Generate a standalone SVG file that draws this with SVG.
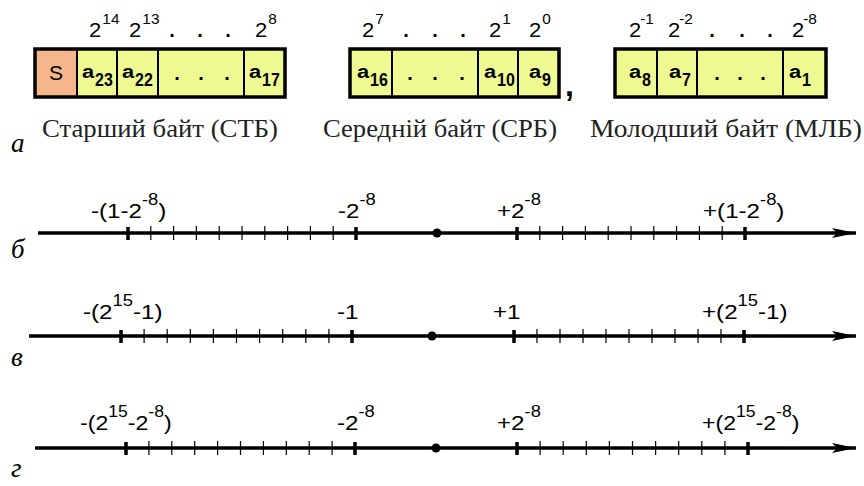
<svg xmlns="http://www.w3.org/2000/svg" width="864" height="486" viewBox="0 0 864 486">
<defs>
<style>
.sans{font-family:"Liberation Sans",Arial,sans-serif;fill:#000}
.b19{font-size:20px}
.s13{font-size:14px}
.cell{font-size:19px;font-weight:bold}
.sub{font-size:16px;font-weight:bold}
.cap{font-family:"Times New Roman","Liberation Serif","DejaVu Serif",serif;font-size:25px;fill:#222}
.it{font-family:"Times New Roman","Liberation Serif","DejaVu Serif",serif;font-style:italic;font-size:27px;fill:#000}
.nl{font-size:21px}
.sp{font-size:16px}
.dot{font-size:20px;font-weight:bold}
.yel{fill:#EEF992}
.org{fill:#F5B68C}
.frame{fill:none;stroke:#000;stroke-width:3.5}
.div{stroke:#000;stroke-width:2}
.axis{stroke:#000;stroke-width:3.5;fill:none}
.major{stroke:#000;stroke-width:3.5}
.minor{stroke:#000;stroke-width:1.2;fill:none}
</style>
<marker id="arr" markerUnits="userSpaceOnUse" markerWidth="28" markerHeight="14" refX="25" refY="7" orient="auto">
<path d="M1,2 L25,7 L1,12 L6,7 Z" fill="#000"/>
</marker>
</defs>

<!-- a: byte boxes -->
<g id="byte-high">
<rect x="35" y="49" width="42" height="48" class="org"/>
<rect x="77" y="49" width="208" height="48" class="yel"/>
<line x1="77" y1="49" x2="77" y2="97" class="div"/>
<line x1="117" y1="49" x2="117" y2="97" class="div"/>
<line x1="158" y1="49" x2="158" y2="97" class="div"/>
<line x1="244" y1="49" x2="244" y2="97" class="div"/>
<rect x="35" y="49" width="250" height="48" class="frame"/>
<text class="sans" style="font-size:21px" x="56" y="80" text-anchor="middle">S</text>
<text class="sans cell" transform="translate(82,78) scale(1.15,1)">a</text>
<text class="sans sub" transform="translate(95,86) scale(1,1.15)">23</text>
<text class="sans cell" transform="translate(122,78) scale(1.15,1)">a</text>
<text class="sans sub" transform="translate(135,86) scale(1,1.15)">22</text>
<text class="sans dot" x="177" y="80" text-anchor="middle">.</text>
<text class="sans dot" x="201" y="80" text-anchor="middle">.</text>
<text class="sans dot" x="227" y="80" text-anchor="middle">.</text>
<text class="sans cell" transform="translate(249,78) scale(1.15,1)">a</text>
<text class="sans sub" transform="translate(262,86) scale(1,1.15)">17</text>
<text class="sans b19" transform="translate(89,37) scale(1.1,1)">2<tspan class="s13" dy="-13" dx="1">14</tspan></text>
<text class="sans b19" transform="translate(129,37) scale(1.1,1)">2<tspan class="s13" dy="-13" dx="1">13</tspan></text>
<text class="sans dot" x="172" y="37" text-anchor="middle">.</text>
<text class="sans dot" x="200" y="37" text-anchor="middle">.</text>
<text class="sans dot" x="228" y="37" text-anchor="middle">.</text>
<text class="sans b19" transform="translate(255,37) scale(1.1,1)">2<tspan class="s13" dy="-13" dx="1">8</tspan></text>
<text class="cap" x="42" y="137" textLength="236" lengthAdjust="spacingAndGlyphs">Старший байт (СТБ)</text>
</g>

<g id="byte-mid">
<rect x="350" y="49" width="209" height="48" class="yel"/>
<line x1="392" y1="49" x2="392" y2="97" class="div"/>
<line x1="478" y1="49" x2="478" y2="97" class="div"/>
<line x1="518" y1="49" x2="518" y2="97" class="div"/>
<rect x="350" y="49" width="209" height="48" class="frame"/>
<text class="sans cell" transform="translate(357,78) scale(1.15,1)">a</text>
<text class="sans sub" transform="translate(370,86) scale(1,1.15)">16</text>
<text class="sans dot" x="410" y="80" text-anchor="middle">.</text>
<text class="sans dot" x="435" y="80" text-anchor="middle">.</text>
<text class="sans dot" x="462" y="80" text-anchor="middle">.</text>
<text class="sans cell" transform="translate(484,78) scale(1.15,1)">a</text>
<text class="sans sub" transform="translate(497,86) scale(1,1.15)">10</text>
<text class="sans cell" transform="translate(529,78) scale(1.15,1)">a</text>
<text class="sans sub" transform="translate(542,86) scale(1,1.15)">9</text>
<text class="sans b19" transform="translate(362,37) scale(1.1,1)">2<tspan class="s13" dy="-13" dx="1">7</tspan></text>
<text class="sans dot" x="406" y="37" text-anchor="middle">.</text>
<text class="sans dot" x="435" y="37" text-anchor="middle">.</text>
<text class="sans dot" x="463" y="37" text-anchor="middle">.</text>
<text class="sans b19" transform="translate(489,37) scale(1.1,1)">2<tspan class="s13" dy="-13" dx="1">1</tspan></text>
<text class="sans b19" transform="translate(529,37) scale(1.1,1)">2<tspan class="s13" dy="-13" dx="1">0</tspan></text>
<text class="sans" style="font-size:32px;font-weight:bold" x="565" y="96">,</text>
<text class="cap" x="323" y="137" textLength="234" lengthAdjust="spacingAndGlyphs">Середній байт (СРБ)</text>
</g>

<g id="byte-low">
<rect x="615" y="49" width="211" height="48" class="yel"/>
<line x1="657" y1="49" x2="657" y2="97" class="div"/>
<line x1="697" y1="49" x2="697" y2="97" class="div"/>
<line x1="783" y1="49" x2="783" y2="97" class="div"/>
<rect x="615" y="49" width="211" height="48" class="frame"/>
<text class="sans cell" transform="translate(629,78) scale(1.15,1)">a</text>
<text class="sans sub" transform="translate(642,86) scale(1,1.15)">8</text>
<text class="sans cell" transform="translate(669,78) scale(1.15,1)">a</text>
<text class="sans sub" transform="translate(682,86) scale(1,1.15)">7</text>
<text class="sans dot" x="717" y="80" text-anchor="middle">.</text>
<text class="sans dot" x="740" y="80" text-anchor="middle">.</text>
<text class="sans dot" x="763" y="80" text-anchor="middle">.</text>
<text class="sans cell" transform="translate(789,78) scale(1.15,1)">a</text>
<text class="sans sub" transform="translate(802,86) scale(1,1.15)">1</text>
<text class="sans b19" transform="translate(629,37) scale(1.1,1)">2<tspan class="s13" dy="-13" dx="-1">-1</tspan></text>
<text class="sans b19" transform="translate(668,37) scale(1.1,1)">2<tspan class="s13" dy="-13" dx="-1">-2</tspan></text>
<text class="sans dot" x="712" y="37" text-anchor="middle">.</text>
<text class="sans dot" x="742" y="37" text-anchor="middle">.</text>
<text class="sans dot" x="770" y="37" text-anchor="middle">.</text>
<text class="sans b19" transform="translate(792,37) scale(1.1,1)">2<tspan class="s13" dy="-13" dx="-1">-8</tspan></text>
<text class="cap" x="590" y="137" textLength="272" lengthAdjust="spacingAndGlyphs">Молодший байт (МЛБ)</text>
</g>

<g id="panel-labels">
<text class="it" x="11" y="152">а</text>
<text class="it" x="11" y="258">б</text>
<text class="it" x="11" y="366">в</text>
<text class="it" x="11" y="477">г</text>
</g>

<!-- connectors: number axes -->
<g id="connectors">
<line x1="38" y1="233" x2="856" y2="233" class="axis" marker-end="url(#arr)"/>
<line x1="29" y1="336" x2="856" y2="336" class="axis" marker-end="url(#arr)"/>
<line x1="35" y1="448" x2="856" y2="448" class="axis" marker-end="url(#arr)"/>
</g>

<g id="axis-b">
<path class="major" d="M128,227V240M356,227V240M517,227V240M745,227V240"/>
<path class="minor" d="M150.8,226V240M173.6,226V240M196.4,226V240M219.2,226V240M242,226V240M264.8,226V240M287.6,226V240M310.4,226V240M333.2,226V240M539.8,226V240M562.6,226V240M585.4,226V240M608.2,226V240M631,226V240M653.8,226V240M676.6,226V240M699.4,226V240M722.2,226V240"/>
<circle cx="437" cy="233" r="4.5"/>
<text class="sans nl" transform="translate(91,218) scale(1.15,1)">-(1-2<tspan class="sp" dy="-13">-8</tspan><tspan dy="13">)</tspan></text>
<text class="sans nl" transform="translate(338,218) scale(1.15,1)">-2<tspan class="sp" dy="-13">-8</tspan></text>
<text class="sans nl" transform="translate(497,218) scale(1.15,1)">+2<tspan class="sp" dy="-13">-8</tspan></text>
<text class="sans nl" transform="translate(703,218) scale(1.15,1)">+(1-2<tspan class="sp" dy="-13">-8</tspan><tspan dy="13">)</tspan></text>
</g>

<g id="axis-v">
<path class="major" d="M121,330V343M352,330V343M514,330V343M744,330V343"/>
<path class="minor" d="M144.1,329V343M167.2,329V343M190.3,329V343M213.4,329V343M236.5,329V343M259.6,329V343M282.7,329V343M305.8,329V343M328.9,329V343M537,329V343M560,329V343M583,329V343M606,329V343M629,329V343M652,329V343M675,329V343M698,329V343M721,329V343"/>
<circle cx="432" cy="336" r="4.5"/>
<text class="sans nl" transform="translate(83,319) scale(1.15,1)">-(2<tspan class="sp" dy="-13">15</tspan><tspan dy="13">-1)</tspan></text>
<text class="sans nl" transform="translate(337,319) scale(1.15,1)">-1</text>
<text class="sans nl" transform="translate(493,319) scale(1.15,1)">+1</text>
<text class="sans nl" transform="translate(702,319) scale(1.15,1)">+(2<tspan class="sp" dy="-13">15</tspan><tspan dy="13">-1)</tspan></text>
</g>

<g id="axis-g">
<path class="major" d="M126,442V455M355,442V455M517,442V455M748,442V455"/>
<path class="minor" d="M148.9,441V455M171.8,441V455M194.7,441V455M217.6,441V455M240.5,441V455M263.4,441V455M286.3,441V455M309.2,441V455M332.1,441V455M540.1,441V455M563.2,441V455M586.3,441V455M609.4,441V455M632.5,441V455M655.6,441V455M678.7,441V455M701.8,441V455M724.9,441V455"/>
<circle cx="436" cy="448" r="4.5"/>
<text class="sans nl" transform="translate(80,430) scale(1.1,1)">-(2<tspan class="sp" dy="-13">15</tspan><tspan dy="13">-2</tspan><tspan class="sp" dy="-13">-8</tspan><tspan dy="13">)</tspan></text>
<text class="sans nl" transform="translate(337,430) scale(1.15,1)">-2<tspan class="sp" dy="-13">-8</tspan></text>
<text class="sans nl" transform="translate(497,430) scale(1.15,1)">+2<tspan class="sp" dy="-13">-8</tspan></text>
<text class="sans nl" transform="translate(702,430) scale(1.1,1)">+(2<tspan class="sp" dy="-13">15</tspan><tspan dy="13">-2</tspan><tspan class="sp" dy="-13">-8</tspan><tspan dy="13">)</tspan></text>
</g>
</svg>
